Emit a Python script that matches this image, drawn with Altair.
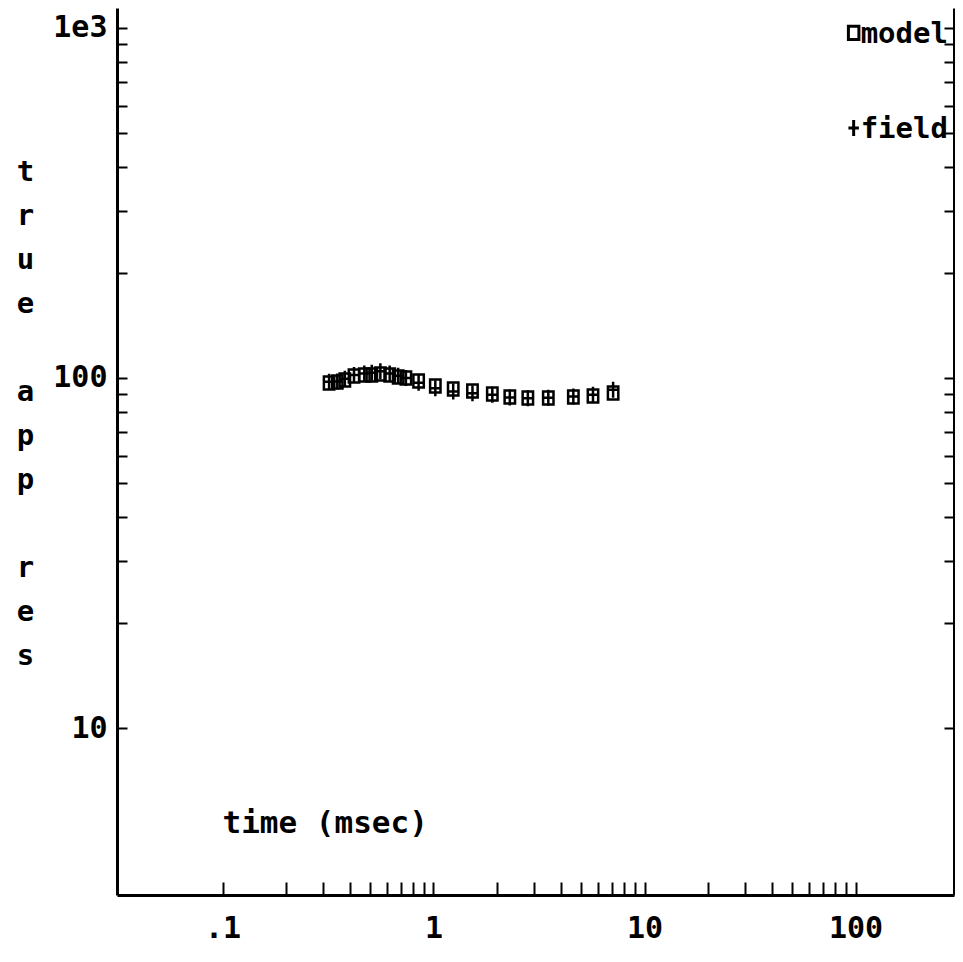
import altair as alt
import pandas as pd

# ---- data ----
time_ms = [0.32, 0.35, 0.38, 0.42, 0.47, 0.51, 0.56, 0.62, 0.68, 0.74, 0.85,
           1.02, 1.24, 1.53, 1.9, 2.3, 2.8, 3.5, 4.6, 5.7, 7.1]
model_res = [96.8, 97.4, 98.7, 101.3, 102.0, 102.0, 102.7, 102.0, 100.7, 100.0, 98.0,
             94.9, 93.0, 91.8, 90.0, 88.3, 87.7, 87.7, 88.3, 88.8, 90.6]
field_res = [97.5, 97.8, 99.5, 102.0, 103.0, 103.5, 104.5, 103.0, 101.5, 100.0, 97.0,
             93.5, 91.5, 90.5, 89.5, 88.0, 87.5, 87.8, 88.5, 89.5, 92.5]
series_names = ["model", "field"]

# legend entries are drawn in data coordinates, as in the original plot
legend_time = [98, 98]
legend_res = [968, 518]

x_major_ticks = [0.1, 1, 10, 100]
x_major_labels = [".1", "1", "10", "100"]
x_minor_ticks = [0.1, 0.2, 0.3, 0.4, 0.5, 0.6, 0.7, 0.8, 0.9,
                 1, 2, 3, 4, 5, 6, 7, 8, 9,
                 10, 20, 30, 40, 50, 60, 70, 80, 90, 100]
y_major_ticks = [10, 100, 1000]
y_major_labels = ["10", "100", "1e3"]
y_minor_ticks = [10, 20, 30, 40, 50, 60, 70, 80, 90,
                 100, 200, 300, 400, 500, 600, 700, 800, 900, 1000]
x_title = "time (msec)"
y_title = "true app res"

# ---- styling ----
FONT = "DejaVu Sans Mono"
W, H = 837, 887
DECADE_PX = 211.0
SQUARE = "M-0.65,-0.8125H0.65V0.8125H-0.65Z"
CROSS = "M-0.65,0H0.65M0,-1V1"

x_lo_exp = -1.5
x_hi_exp = x_lo_exp + W / DECADE_PX
xscale = alt.Scale(type="log", domain=[10 ** x_lo_exp, 10 ** x_hi_exp], nice=False)
yscale = alt.Scale(type="log", domain=[3.334, 1140.4], nice=False)
shape_scale = alt.Scale(domain=series_names, range=[SQUARE, CROSS])

n = len(time_ms)
df = pd.DataFrame({
    "time": time_ms + time_ms,
    "res": model_res + field_res,
    "series": [series_names[0]] * n + [series_names[1]] * n,
})
legend_df = pd.DataFrame({"time": legend_time, "res": legend_res, "series": series_names})


def label_expr(values, labels):
    parts = [f"abs(datum.value - {v}) < {v}*1e-6 ? '{l}'" for v, l in zip(values, labels)]
    return " : ".join(parts) + " : ''"


# one letter per line; word gaps kept with a blank (braille blank) line
y_title_lines = [c if c != " " else "\u2800" for c in y_title]

points = alt.Chart(df).mark_point(filled=False, color="black", strokeWidth=2.5, opacity=1, size=256).encode(
    x=alt.X("time:Q", scale=xscale, axis=alt.Axis(
        orient="bottom", values=x_major_ticks, labelExpr=label_expr(x_major_ticks, x_major_labels),
        ticks=False, tickSize=0, domain=True, domainColor="black", domainWidth=3, grid=False,
        labelFont=FONT, labelFontSize=30, labelFontWeight="bold", labelColor="black",
        labelPadding=18, labelFlush=False, labelOverlap=False, labelBaseline="top",
        title=x_title, titleFont=FONT, titleFontSize=31, titleFontWeight="bold", titleColor="black",
        titleX=105, titleY=-72, titleAlign="left", titleBaseline="middle")),
    y=alt.Y("res:Q", scale=yscale, axis=alt.Axis(
        orient="left", values=y_major_ticks, labelExpr=label_expr(y_major_ticks, y_major_labels),
        ticks=False, tickSize=0, domain=True, domainColor="black", domainWidth=3, grid=False,
        labelFont=FONT, labelFontSize=30, labelFontWeight="bold", labelColor="black",
        labelPadding=10, labelFlush=False, labelOverlap=False, labelBaseline="middle",
        title=y_title_lines, titleFont=FONT, titleFontSize=29, titleFontWeight="bold",
        titleColor="black", titleAngle=0, titleX=-92, titleY=163, titleAlign="center",
        titleBaseline="middle", titleLineHeight=44)),
    shape=alt.Shape("series:N", scale=shape_scale, legend=None),
)

# inward ticks: bottom edge (top-oriented axis moved to the bottom) and left edge
inner_ticks = alt.Chart(df).mark_point(opacity=0).encode(
    x=alt.X("time:Q", scale=xscale, axis=alt.Axis(
        orient="top", offset=-H, values=x_minor_ticks, labels=False, domain=False,
        ticks=True, tickSize=13, tickWidth=2, tickColor="black", grid=False, title=None)),
    y=alt.Y("res:Q", scale=yscale, axis=alt.Axis(
        orient="right", offset=-W, values=y_minor_ticks, labels=False, domain=False,
        ticks=True, tickSize=10, tickWidth=2, tickColor="black", grid=False, title=None)),
)

# right edge: border line and inward ticks
right_edge = alt.Chart(df).mark_point(opacity=0).encode(
    x=alt.X("time:Q", scale=xscale, axis=None),
    y=alt.Y("res:Q", scale=yscale, axis=alt.Axis(
        orient="left", offset=-W, values=y_minor_ticks, labels=False, domain=True,
        domainColor="black", domainWidth=3,
        ticks=True, tickSize=10, tickWidth=2, tickColor="black", grid=False, title=None)),
)

legend_symbols = alt.Chart(legend_df).mark_point(
    filled=False, color="black", strokeWidth=3, opacity=1, size=260
).encode(
    x=alt.X("time:Q", scale=xscale, axis=None),
    y=alt.Y("res:Q", scale=yscale, axis=None),
    shape=alt.Shape("series:N", scale=shape_scale, legend=None),
)

legend_labels = alt.Chart(legend_df).mark_text(
    align="left", baseline="middle", dx=7, dy=1, font=FONT, fontSize=29,
    fontWeight="bold", color="black"
).encode(
    x=alt.X("time:Q", scale=xscale, axis=None),
    y=alt.Y("res:Q", scale=yscale, axis=None),
    text="series:N",
)

chart = alt.layer(points, inner_ticks, right_edge, legend_symbols, legend_labels).resolve_axis(
    x="independent", y="independent"
).properties(
    width=W, height=H,
    autosize=alt.AutoSizeParams(type="none"),
    padding={"left": 109, "top": 0, "right": 1, "bottom": 52},
    background="white",
).configure_view(stroke=None)

chart.save("out.html", embed_options={"renderer": "svg", "actions": False})
